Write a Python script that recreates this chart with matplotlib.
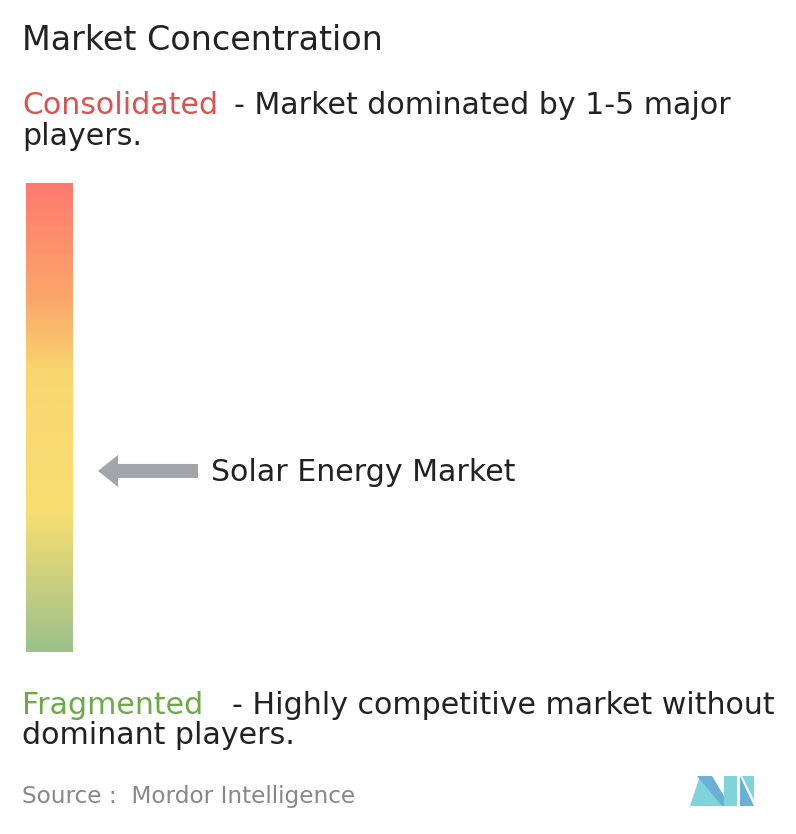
import matplotlib
matplotlib.use("Agg")
import matplotlib.pyplot as plt
import numpy as np
from matplotlib.colors import LinearSegmentedColormap
from matplotlib.patches import FancyArrow, Polygon

title = "Market Concentration"
market = "Solar Energy Market"
position = 0.386  # 0 = fragmented, 1 = consolidated
source = "Source :  Mordor Intelligence"

W, H = 796, 834
fig = plt.figure(figsize=(W/100, H/100), dpi=100)
ax = fig.add_axes([0, 0, 1, 1])
ax.set_xlim(0, W); ax.set_ylim(H, 0); ax.axis("off")

fs = 21.6
ax.text(22, 40, title, fontsize=24, va="center", color="#222222")
ax.text(22, 105, "Consolidated", fontsize=fs, va="center", color="#D9534F")
ax.text(234, 105, "- Market dominated by 1-5 major", fontsize=fs, va="center", color="#222222")
ax.text(22, 136, "players.", fontsize=fs, va="center", color="#222222")

cmap = LinearSegmentedColormap.from_list("c", [(0, "#FF7A6E"), (0.25, "#FBA86A"), (0.4, "#F8D66E"),
                                               (0.7, "#F8DF72"), (1.0, "#9CC18C")])
grad = np.linspace(0, 1, 256).reshape(-1, 1)
x0, x1, y0, y1 = 26, 73, 183, 652
ax.imshow(grad, cmap=cmap, aspect="auto", extent=(x0, x1, y1, y0), zorder=1)

ay = y1 - position * (y1 - y0)
ax.add_patch(FancyArrow(198, ay, -100, 0, width=14, head_width=32, head_length=20,
                        length_includes_head=True, color="#A4A5AB", lw=0))
ax.text(211, ay + 2, market, fontsize=fs, va="center", color="#222222")

ax.text(22, 705, "Fragmented", fontsize=fs, va="center", color="#6AAB48")
ax.text(232, 705, "- Highly competitive market without", fontsize=fs, va="center", color="#222222")
ax.text(22, 736, "dominant players.", fontsize=fs, va="center", color="#222222")

ax.text(22, 797, source, fontsize=16.7, va="center", color="#888888")

ax.add_patch(Polygon([(690, 806), (700, 776), (722, 806)], color="#7FD3DB", lw=0))
ax.add_patch(Polygon([(697, 776), (712, 776), (730, 806), (722, 806)], color="#6AAFD6", lw=0))
ax.add_patch(Polygon([(724, 776), (737, 776), (737, 806), (724, 806)], color="#7FD3DB", lw=0))
ax.add_patch(Polygon([(740, 776), (754, 806), (740, 806)], color="#6AAFD6", lw=0))
ax.add_patch(Polygon([(742, 776), (754, 776), (754, 800)], color="#7FD3DB", lw=0))

fig.savefig("out.png", dpi=100)
